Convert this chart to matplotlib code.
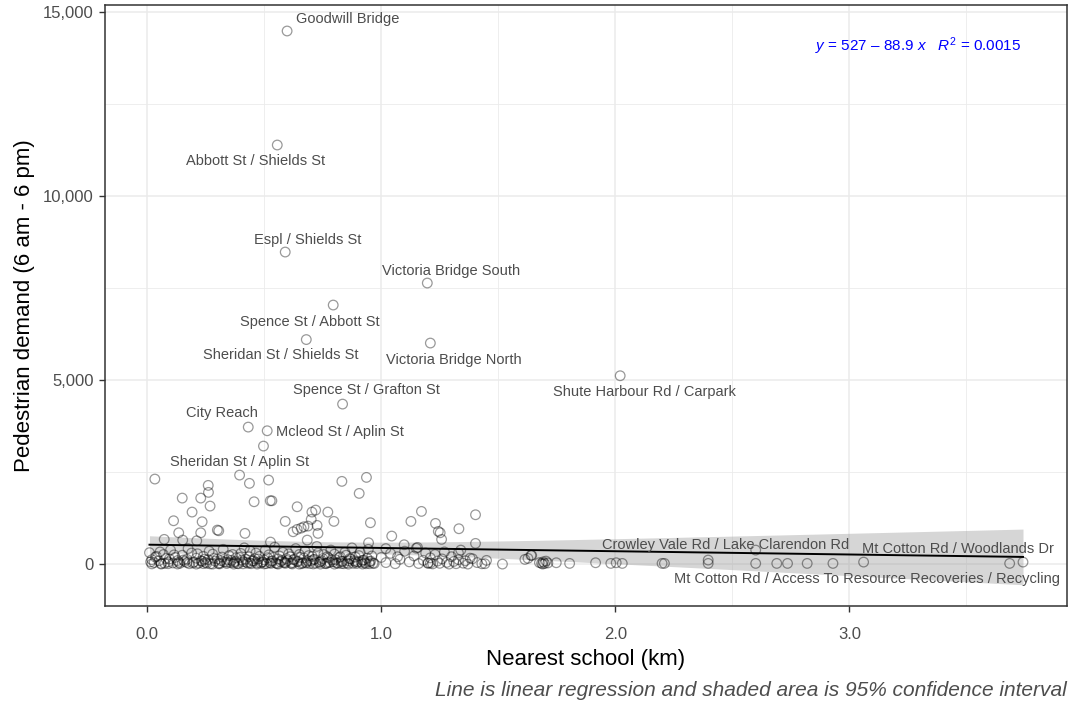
import numpy as np
import matplotlib.pyplot as plt

plt.rcParams['font.family'] = ['Liberation Sans', 'DejaVu Sans']
plt.rcParams['mathtext.fontset'] = 'custom'
plt.rcParams['mathtext.rm'] = 'Liberation Sans'
plt.rcParams['mathtext.it'] = 'Liberation Sans:italic'

# Intersections with notable demand (km to nearest school, daily pedestrians)
named_x = [0.598, 0.556, 0.590, 1.197, 0.795, 0.680, 1.210, 2.021, 0.835, 0.432, 0.513, 0.497,
           2.600, 3.742, 3.685]
named_y = [14484, 11386, 8478, 7636, 7038, 6100, 6005, 5117, 4347, 3722, 3622, 3206,
           380, 54, 18]

# Remaining sites above the main cluster
upper_x = [0.033, 0.261, 0.262, 0.150, 0.229, 0.269, 0.192, 0.113, 0.235, 0.135, 0.229, 0.300,
           0.306, 0.073, 0.152, 0.212, 0.395, 0.437, 0.457, 0.418, 0.519, 0.526, 0.533, 0.832,
           0.937, 0.906, 0.641, 0.704, 0.720, 0.772, 0.590, 0.701, 0.798, 0.954, 0.687, 0.726,
           0.624, 0.641, 0.658, 0.670, 0.730, 0.527, 0.684, 0.946, 1.045, 1.172, 1.127, 1.232,
           1.244, 1.252, 1.258, 1.332, 1.403, 1.403, 1.098, 1.155, 1.390]
upper_y = [2310, 2138, 1948, 1793, 1793, 1576, 1413, 1177, 1150, 850, 850, 924,
           905, 671, 652, 633, 2418, 2193, 1693, 834, 2282, 1720, 1720, 2247,
           2355, 1920, 1557, 1413, 1467, 1413, 1160, 1214, 1160, 1123, 1032, 1051,
           878, 942, 978, 1014, 834, 598, 652, 579, 761, 1431, 1160, 1105,
           888, 851, 671, 960, 1340, 562, 525, 453, 145]

# Low-demand sites near schools
low_x = [0.01, 0.02, 0.03, 0.04, 0.05, 0.06, 0.07, 0.08, 0.09, 0.10, 0.11, 0.12, 0.13, 0.14,
         0.15, 0.16, 0.17, 0.18, 0.19, 0.20, 0.21, 0.22, 0.23, 0.24, 0.25, 0.26, 0.27, 0.28,
         0.29, 0.30, 0.31, 0.32, 0.33, 0.34, 0.35, 0.36, 0.37, 0.38, 0.39, 0.40, 0.41, 0.42,
         0.43, 0.44, 0.45, 0.46, 0.47, 0.48, 0.49, 0.50, 0.51, 0.52, 0.53, 0.54, 0.55, 0.56,
         0.57, 0.58, 0.59, 0.60, 0.61, 0.62, 0.63, 0.64, 0.65, 0.66, 0.67, 0.68, 0.69, 0.70,
         0.71, 0.72, 0.73, 0.74, 0.75, 0.76, 0.77, 0.78, 0.79, 0.80, 0.81, 0.82, 0.83, 0.84,
         0.85, 0.86, 0.87, 0.88, 0.89, 0.90, 0.91, 0.92, 0.93, 0.94, 0.95, 0.96, 0.97,
         0.015, 0.035, 0.055, 0.075, 0.095, 0.115, 0.135, 0.155, 0.175, 0.195, 0.215, 0.235,
         0.245, 0.255, 0.265, 0.285, 0.305, 0.315, 0.325, 0.345, 0.355, 0.365, 0.375, 0.385,
         0.395, 0.405, 0.415, 0.425, 0.435, 0.445, 0.455, 0.465, 0.475, 0.485, 0.495, 0.505,
         0.515, 0.525, 0.535, 0.545, 0.555, 0.565, 0.575, 0.585, 0.595, 0.605, 0.615, 0.625,
         0.635, 0.645, 0.655, 0.665, 0.675, 0.685, 0.695, 0.705, 0.715, 0.725, 0.735, 0.745,
         0.755, 0.765, 0.775, 0.785, 0.795, 0.805, 0.815, 0.825, 0.835, 0.845, 0.855, 0.865,
         0.875, 0.885, 0.895, 0.905, 0.915, 0.925, 0.935, 0.945, 0.955, 0.965,
         0.02, 0.06, 0.09, 0.13, 0.17, 0.21, 0.24, 0.28, 0.31, 0.34, 0.37, 0.41, 0.44, 0.47,
         0.50, 0.53, 0.56, 0.59, 0.62, 0.65, 0.68, 0.71, 0.74, 0.77, 0.80, 0.83, 0.86, 0.89,
         0.92, 0.95,
         1.00, 1.02, 1.04, 1.06, 1.08, 1.10, 1.12, 1.14, 1.16, 1.18, 1.20, 1.21, 1.22, 1.23,
         1.24, 1.25, 1.26, 1.27, 1.28, 1.29, 1.30, 1.31, 1.32, 1.33, 1.34, 1.35, 1.36, 1.37,
         1.38, 1.41, 1.43, 1.45, 1.02, 1.07, 1.15, 1.19, 1.33, 1.20, 1.21]
low_y = [310, 120, 40, 210, 90, 15, 260, 150, 60, 380, 30, 180, 95, 20,
         240, 70, 130, 10, 300, 55, 160, 25, 90, 210, 45, 120, 5, 270,
         80, 140, 35, 190, 60, 15, 230, 100, 40, 170, 8, 290, 65, 130,
         20, 360, 85, 150, 30, 210, 50, 110, 12, 250, 75, 180, 28, 140,
         60, 320, 18, 95, 200, 40, 130, 70, 260, 10, 165, 50, 230, 85,
         120, 25, 300, 60, 150, 15, 200, 45, 110, 270, 30, 175, 70, 10,
         240, 90, 140, 20, 190, 55, 320, 100, 35, 160, 65, 220, 15,
         60, 190, 330, 20, 140, 250, 50, 110, 420, 30, 280, 75,
         130, 20, 350, 160, 10, 95, 400, 120, 40, 260, 70, 15,
         180, 110, 440, 50, 200, 10, 90, 300, 140, 25, 60, 380,
         170, 35, 90, 460, 10, 220, 100, 40, 150, 280, 20, 120,
         420, 70, 180, 30, 350, 90, 15, 210, 130, 480, 45, 95,
         260, 10, 170, 380, 60, 120, 20, 200, 75, 320, 30, 150,
         440, 90, 15, 230, 50, 110, 10, 400, 80, 25,
         5, 0, 10, 2, 40, 0, 12, 0, 6, 50, 0, 8, 30, 0,
         5, 20, 0, 45, 3, 0, 25, 5, 0, 35, 0, 15, 0, 60,
         2, 10,
         180, 40, 290, 10, 130, 350, 60, 220, 15, 100, 30, 170, 5, 260,
         80, 20, 140, 330, 45, 0, 200, 70, 10, 120, 380, 25, 90, 0,
         160, 40, 8, 100, 420, 200, 430, 300, 300, 20, 25]

# Sites further out, mostly beyond 1.5 km
far_x = [1.443, 1.518, 1.614, 1.627, 1.640, 1.643, 1.676, 1.685, 1.692, 1.698, 1.704, 1.712,
         1.690, 1.748, 1.805, 1.916, 1.981, 2.004, 2.030, 2.200, 2.210, 2.397, 2.397, 2.600,
         2.690, 2.736, 2.820, 2.930, 3.061]
far_y = [10, 0, 127, 155, 236, 236, 40, 20, 60, 15, 80, 30,
         0, 36, 18, 36, 18, 36, 18, 18, 18, 109, 18, 18,
         18, 18, 18, 18, 54]

labels = ['Goodwill Bridge', 'Abbott St / Shields St', 'Espl / Shields St',
          'Victoria Bridge South', 'Spence St / Abbott St', 'Sheridan St / Shields St',
          'Victoria Bridge North', 'Shute Harbour Rd / Carpark', 'Spence St / Grafton St',
          'City Reach', 'Mcleod St / Aplin St', 'Sheridan St / Aplin St',
          'Crowley Vale Rd / Lake Clarendon Rd', 'Mt Cotton Rd / Woodlands Dr',
          'Mt Cotton Rd / Access To Resource Recoveries / Recycling']
label_x = [0.855, 0.462, 0.688, 1.299, 0.697, 0.573, 1.312, 2.124, 0.936, 0.320, 0.825, 0.397,
           2.470, 3.466, 3.077]
label_y = [14808, 10950, 8803, 7961, 6575, 5679, 5543, 4673, 4728, 4103, 3587, 2771,
           516, 408, -408]

intercept = 527
slope = -88.9
r_squared = 0.0015

x = np.array(named_x + upper_x + low_x + far_x)
y = np.array(named_y + upper_y + low_y + far_y)

# 95% confidence band around the fitted line
n = len(x)
resid = y - (intercept + slope * x)
s = np.sqrt(np.sum(resid ** 2) / (n - 2))
sxx = np.sum((x - x.mean()) ** 2)
xs = np.linspace(x.min(), x.max(), 80)
fit = intercept + slope * xs
se = s * np.sqrt(1 / n + (xs - x.mean()) ** 2 / sxx)
t = 1.966

fig = plt.figure(figsize=(10.78, 7.06), dpi=100)
ax = fig.add_axes([0.0974, 0.1416, 0.8924, 0.8513])

ax.fill_between(xs, fit - t * se, fit + t * se, color='#999999', alpha=0.4, lw=0, zorder=2)
ax.scatter(x, y, s=48, facecolors='none', edgecolors='black', alpha=0.4, linewidths=0.9, zorder=3)
ax.plot(xs, fit, color='black', lw=1.4, zorder=4)

for lab, lx, ly in zip(labels, label_x, label_y):
    ax.text(lx, ly, lab, ha='center', va='center', fontsize=10.5, color='#4d4d4d', zorder=5)

ax.text(3.295, 14075, r'$y$ = 527 – 88.9 $x$   $R^2$ = 0.0015', ha='center', va='center',
        fontsize=11, color='blue')

ax.set_xlim(-0.18, 3.93)
ax.set_ylim(-1140, 15190)
ax.set_xticks([0, 1, 2, 3])
ax.set_xticklabels(['0.0', '1.0', '2.0', '3.0'])
ax.set_xticks([0.5, 1.5, 2.5, 3.5], minor=True)
ax.set_yticks([0, 5000, 10000, 15000])
ax.set_yticklabels(['0', '5,000', '10,000', '15,000'])
ax.set_yticks([2500, 7500, 12500], minor=True)
ax.grid(which='major', color='#ebebeb', lw=1.1, zorder=0)
ax.grid(which='minor', color='#ebebeb', lw=0.6, zorder=0)
ax.set_axisbelow(True)
ax.tick_params(which='major', length=4, width=1, color='#333333', labelcolor='#4d4d4d',
               labelsize=12)
ax.tick_params(axis='x', which='major', pad=11)
ax.tick_params(axis='y', which='major', pad=4)
ax.tick_params(which='minor', length=0)
for sp in ax.spines.values():
    sp.set_color('#333333')
    sp.set_linewidth(1.1)

ax.set_xlabel('Nearest school (km)', fontsize=16, labelpad=5)
ax.set_ylabel('Pedestrian demand (6 am - 6 pm)', fontsize=16, labelpad=6)

fig.text(0.9898, 0.022, 'Line is linear regression and shaded area is 95% confidence interval',
         ha='right', va='center', fontsize=15, style='italic', color='#4d4d4d')

fig.savefig('out.png', dpi=100)
